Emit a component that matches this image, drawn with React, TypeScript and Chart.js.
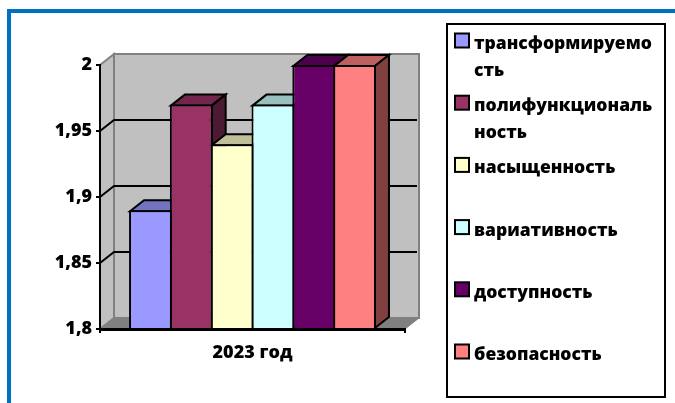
import React, { useEffect, useRef } from "react";
import { Chart, registerables } from "chart.js";

Chart.register(...registerables);

const categories = ["2023 год"];
const seriesNames = ["трансформируемость", "полифункциональность", "насыщенность", "вариативность", "доступность", "безопасность"];
const seriesLegendLines = [
  ["трансформируемо", "сть"],
  ["полифункциональ", "ность"],
  ["насыщенность"],
  ["вариативность"],
  ["доступность"],
  ["безопасность"],
];
const seriesValues = [1.89, 1.97, 1.94, 1.97, 2, 2];
const seriesColors = ["#9999FF", "#993366", "#FFFFCC", "#CCFFFF", "#660066", "#FF8080"];
const yTickValues = ["1,8", "1,85", "1,9", "1,95", "2"];

const FONT = "'Open Sans', sans-serif";
const DX = 14;
const DY = -11;

function shade(hex: string, f: number) {
  const n = parseInt(hex.slice(1), 16);
  const r = Math.round(((n >> 16) & 255) * f);
  const g = Math.round(((n >> 8) & 255) * f);
  const b = Math.round((n & 255) * f);
  return `rgb(${r},${g},${b})`;
}

function poly(ctx: CanvasRenderingContext2D, pts: number[][], fill: string, stroke: string, lw: number) {
  ctx.beginPath();
  pts.forEach((p, i) => (i ? ctx.lineTo(p[0], p[1]) : ctx.moveTo(p[0], p[1])));
  ctx.closePath();
  ctx.fillStyle = fill;
  ctx.fill();
  ctx.strokeStyle = stroke;
  ctx.lineWidth = lw;
  ctx.lineJoin = "miter";
  ctx.stroke();
}

const scene3d = {
  id: "scene3d",
  beforeDraw(chart: any) {
    const { ctx, chartArea: a, scales } = chart;
    ctx.save();
    ctx.fillStyle = "#ffffff";
    ctx.fillRect(0, 0, 675, 403);
    // frame
    ctx.fillStyle = "#0070C0";
    ctx.fillRect(7, 9, 668, 4);
    ctx.fillRect(7, 9, 4, 394);
    // walls
    const wall = "#C0C0C0";
    const edge = "#808080";
    poly(ctx, [[a.left, a.top], [a.left + DX, a.top + DY], [a.left + DX, a.bottom + DY], [a.left, a.bottom]], wall, edge, 2);
    poly(ctx, [[a.left + DX, a.top + DY], [a.right + DX, a.top + DY], [a.right + DX, a.bottom + DY], [a.left + DX, a.bottom + DY]], wall, edge, 2);
    poly(ctx, [[a.left, a.bottom], [a.left + DX, a.bottom + DY], [a.right + DX, a.bottom + DY], [a.right, a.bottom]], edge, edge, 1);
    // gridlines on walls
    ctx.strokeStyle = "#000";
    ctx.lineWidth = 2;
    scales.y.ticks.forEach((t: any) => {
      if (t.value <= 1.8001 || t.value >= 1.9999) return;
      const y = scales.y.getPixelForValue(t.value);
      ctx.beginPath();
      ctx.moveTo(a.left, y);
      ctx.lineTo(a.left + DX, y + DY);
      ctx.lineTo(a.right + DX - 2, y + DY);
      ctx.stroke();
    });
    ctx.restore();
  },
  beforeDatasetsDraw(chart: any) {
    const { ctx } = chart;
    ctx.save();
    chart.data.datasets.forEach((ds: any, i: number) => {
      const el = chart.getDatasetMeta(i).data[0];
      const hw = el.width / 2;
      const l = el.x - hw + 1;
      const r = el.x + hw - 1;
      const t = el.y + 1;
      const b = el.base;
      const c = seriesColors[i];
      poly(ctx, [[l, t], [l + DX, t + DY], [r + DX, t + DY], [r, t]], shade(c, 0.75), "#000", 2);
      poly(ctx, [[r, t], [r + DX, t + DY], [r + DX, b + DY], [r, b]], shade(c, 0.5), "#000", 2);
    });
    ctx.restore();
  },
  afterDraw(chart: any) {
    const { ctx } = chart;
    ctx.save();
    // legend box
    ctx.fillStyle = "#fff";
    ctx.strokeStyle = "#000";
    ctx.lineWidth = 2;
    ctx.fillRect(447, 24, 218, 373);
    ctx.strokeRect(447, 24, 218, 373);
    ctx.font = `800 17.5px ${FONT}`;
    ctx.textBaseline = "alphabetic";
    seriesLegendLines.forEach((lines, i) => {
      const top = 33.5 + i * 62.2;
      ctx.fillStyle = seriesColors[i];
      ctx.fillRect(455, top, 14, 14);
      ctx.strokeRect(455, top, 14, 14);
      ctx.fillStyle = "#000";
      lines.forEach((line, j) => ctx.fillText(line, 474, top + 15.5 + j * 27));
    });
    ctx.restore();
  },
};

export default function App() {
  const ref = useRef<HTMLCanvasElement>(null);
  useEffect(() => {
    const chart = new Chart(ref.current!, {
      type: "bar",
      data: {
        labels: categories,
        datasets: seriesNames.map((name, i) => ({
          label: name,
          data: [seriesValues[i]],
          base: 1.8,
          backgroundColor: seriesColors[i],
          borderColor: "#000",
          borderWidth: 2,
          borderSkipped: "bottom",
          barPercentage: 1.049,
          categoryPercentage: 0.803,
          clip: false,
        })),
      },
      options: {
        responsive: false,
        animation: false,
        devicePixelRatio: 1,
        layout: { padding: { left: 0, top: 65, right: 270, bottom: 0 } },
        plugins: { legend: { display: false }, tooltip: { enabled: false } },
        scales: {
          x: {
            grid: { drawOnChartArea: false, drawTicks: true, tickLength: 4, color: "#000", lineWidth: 2 },
            border: { color: "#000", width: 3, z: 1 },
            ticks: { color: "#000", font: { family: FONT, size: 18, weight: 800 }, padding: 9, maxRotation: 0 },
            afterFit: (s: any) => { s.height = 74; },
          },
          y: {
            min: 1.8,
            max: 2,
            grid: { drawOnChartArea: false, drawTicks: true, tickLength: 4, color: "#000", lineWidth: 2 },
            border: { color: "#000", width: 2, z: 1 },
            ticks: {
              stepSize: 0.05,
              color: "#000",
              font: { family: FONT, size: 18, weight: 800 },
              padding: 4,
              callback: (_v: any, i: number) => yTickValues[i],
            },
            afterFit: (s: any) => { s.width = 100; },
          },
        },
      },
      plugins: [scene3d],
    } as any);
    return () => chart.destroy();
  }, []);
  return (
    <canvas
      ref={ref}
      width={675}
      height={403}
      style={{ position: "fixed", left: 0, top: 0, width: 675, height: 403 }}
    />
  );
}
